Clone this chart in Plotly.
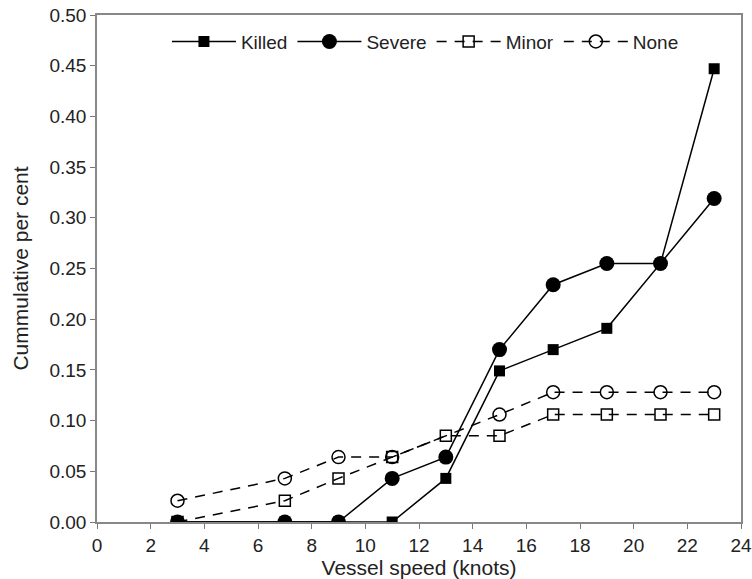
import plotly.graph_objects as go

speed = [3, 7, 9, 11, 13, 15, 17, 19, 21, 23]
killed = [0.0, 0.0, 0.0, 0.0, 0.043, 0.149, 0.170, 0.191, 0.255, 0.447]
severe = [0.0, 0.0, 0.0, 0.043, 0.064, 0.170, 0.234, 0.255, 0.255, 0.319]
minor = [0.0, 0.021, 0.043, 0.064, 0.085, 0.085, 0.106, 0.106, 0.106, 0.106]
speed_none = [3, 7, 9, 11, 15, 17, 19, 21, 23]
none_vals = [0.021, 0.043, 0.064, 0.064, 0.106, 0.128, 0.128, 0.128, 0.128]

x_ticks = list(range(0, 25, 2))
y_ticks = [i * 0.05 for i in range(11)]

fig = go.Figure()
fig.add_trace(go.Scatter(x=speed, y=minor, name="Minor", mode="lines+markers",
                         line=dict(color="black", width=1.5, dash="10px,8px"),
                         marker=dict(symbol="square-open", size=11, color="black", line=dict(width=1.5))))
fig.add_trace(go.Scatter(x=speed_none, y=none_vals, name="None", mode="lines+markers",
                         line=dict(color="black", width=1.5, dash="10px,8px"),
                         marker=dict(symbol="circle-open", size=13, color="black", line=dict(width=1.5))))
fig.add_trace(go.Scatter(x=speed, y=killed, name="Killed", mode="lines+markers",
                         line=dict(color="black", width=1.5),
                         marker=dict(symbol="square", size=11, color="black")))
fig.add_trace(go.Scatter(x=speed, y=severe, name="Severe", mode="lines+markers",
                         line=dict(color="black", width=1.5),
                         marker=dict(symbol="circle", size=15, color="black")))

fig.update_layout(
    width=752, height=579,
    margin=dict(l=97, r=11, t=15, b=57),
    paper_bgcolor="white", plot_bgcolor="white",
    font=dict(family="Liberation Sans, Arial, sans-serif", color="#222", size=19),
    showlegend=True,
    legend=dict(orientation="h", x=0.51, xanchor="center", y=0.985, yanchor="top",
                font=dict(size=19), bgcolor="rgba(0,0,0,0)", itemwidth=64),
)
fig.update_xaxes(range=[0, 24], tickvals=x_ticks, ticks="outside", ticklen=5, tickcolor="#777",
                 showline=True, linecolor="#888", linewidth=1.5, mirror=True, showgrid=False,
                 zeroline=False, automargin=False,
                 title=dict(text="Vessel speed (knots)", font=dict(size=21)),
                 tickfont=dict(size=19))
fig.update_yaxes(range=[0, 0.5], tickvals=y_ticks, tickformat=".2f", ticks="outside", ticklen=5,
                 tickcolor="#777", showline=True, linecolor="#888", linewidth=1.5, mirror=True,
                 showgrid=False, zeroline=False, automargin=False,
                 title=dict(text="Cummulative per cent", font=dict(size=21)),
                 tickfont=dict(size=19))

# legend order: Killed, Severe, Minor, None
for tr, rank in zip(fig.data, [3, 4, 1, 2]):
    tr.legendrank = rank

fig.write_html("out.html", config={"displayModeBar": False},
               post_script="document.body.style.margin='0';")
